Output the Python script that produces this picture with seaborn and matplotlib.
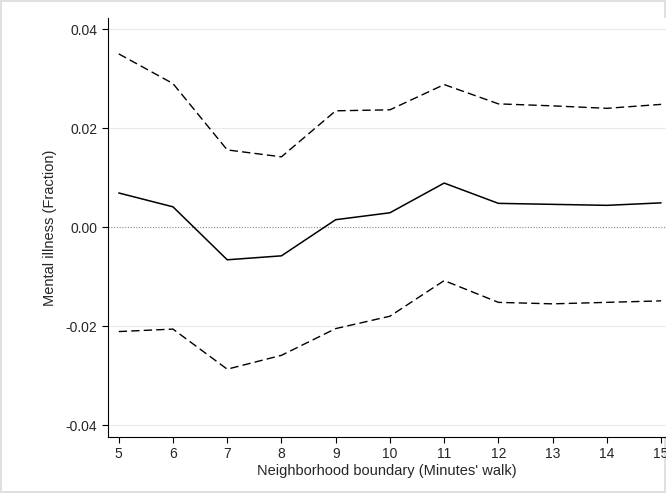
import matplotlib
matplotlib.use("Agg")
import matplotlib.pyplot as plt
import seaborn as sns
import pandas as pd

minutes = [5, 6, 7, 8, 9, 10, 11, 12, 13, 14, 15]
estimate = [0.0069, 0.0041, -0.0066, -0.0058, 0.0015, 0.0029, 0.0089, 0.0048, 0.0046, 0.0044, 0.0049]
upper_ci = [0.0350, 0.0290, 0.0156, 0.0142, 0.0235, 0.0237, 0.0288, 0.0249, 0.0245, 0.0240, 0.0248]
lower_ci = [-0.0211, -0.0206, -0.0287, -0.0259, -0.0205, -0.0180, -0.0108, -0.0152, -0.0155, -0.0152, -0.0149]

df = pd.DataFrame({"Minutes": minutes, "est": estimate, "hi": upper_ci, "lo": lower_ci})

sns.set_style("white")
plt.rcParams['font.family'] = ['Liberation Sans', 'DejaVu Sans']

fig = plt.figure(figsize=(6.66, 4.93), dpi=100)
fig.patch.set_edgecolor('#e0e0e0')
fig.patch.set_linewidth(1.5)
ax = fig.add_axes([0.162, 0.1136, 0.838, 0.8494])

for y in [-0.04, -0.02, 0.02, 0.04]:
    ax.axhline(y, color='#eaeaea', lw=0.8, zorder=0)
ax.axhline(0, color='#888888', lw=0.8, ls=(0, (1, 1.5)), zorder=1)

sns.lineplot(data=df, x="Minutes", y="hi", ax=ax, color='black', lw=1, linestyle=(0, (6, 3)))
sns.lineplot(data=df, x="Minutes", y="lo", ax=ax, color='black', lw=1, linestyle=(0, (6, 3)))
sns.lineplot(data=df, x="Minutes", y="est", ax=ax, color='black', lw=1.1)

ax.set_xlim(4.8, 15.09)
ax.set_ylim(-0.0424, 0.0422)
ax.set_xticks(minutes)
ax.set_yticks([-0.04, -0.02, 0.0, 0.02, 0.04])
ax.set_yticklabels(['-0.04', '-0.02', '0.00', '0.02', '0.04'])
ax.tick_params(axis='both', length=4, width=0.8, color='black', labelsize=10, direction='out', left=True, bottom=True)
for s in ['top', 'right']:
    ax.spines[s].set_visible(False)
for s in ['left', 'bottom']:
    ax.spines[s].set_color('black')
    ax.spines[s].set_linewidth(0.8)
ax.set_xlabel("Neighborhood boundary (Minutes' walk)", fontsize=10.5, labelpad=2)
ax.set_ylabel("Mental illness (Fraction)", fontsize=10.5, labelpad=6)

fig.savefig("out.png", dpi=100)
